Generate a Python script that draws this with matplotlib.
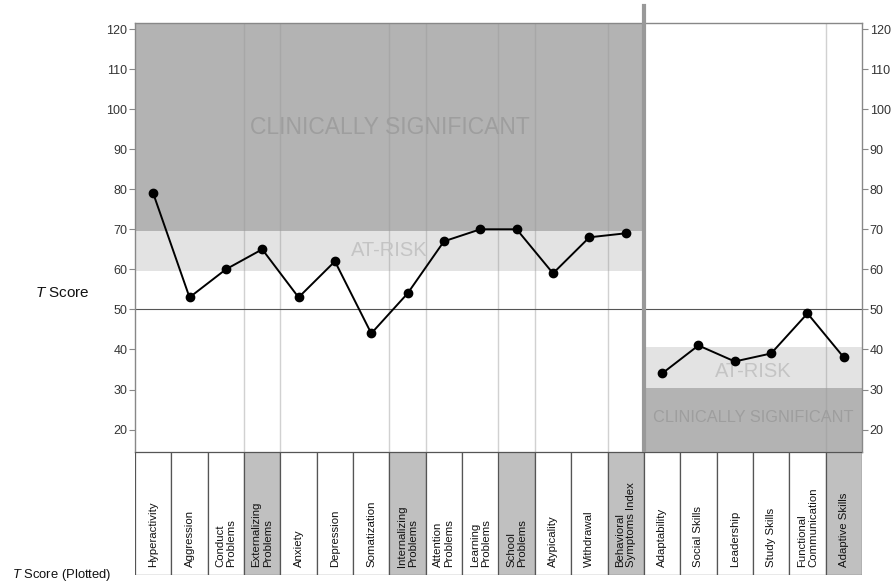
import matplotlib
matplotlib.use('Agg')
import matplotlib.pyplot as plt
from matplotlib.patches import Rectangle

plt.rcParams['font.family'] = ['Liberation Sans', 'DejaVu Sans']
plt.rcParams['mathtext.fontset'] = 'custom'
plt.rcParams['mathtext.it'] = 'Liberation Sans:italic'
plt.rcParams['mathtext.rm'] = 'Liberation Sans'

# clinical + adaptive scales (T scores)
clinical_scales = ['Hyperactivity', 'Aggression', 'Conduct\nProblems', 'Externalizing\nProblems',
                   'Anxiety', 'Depression', 'Somatization', 'Internalizing\nProblems',
                   'Attention\nProblems', 'Learning\nProblems', 'School\nProblems',
                   'Atypicality', 'Withdrawal', 'Behavioral\nSymptoms Index']
clinical_scores = [79, 53, 60, 65, 53, 62, 44, 54, 67, 70, 70, 59, 68, 69]

adaptive_scales = ['Adaptability', 'Social Skills', 'Leadership', 'Study Skills',
                   'Functional\nCommunication', 'Adaptive Skills']
adaptive_scores = [34, 41, 37, 39, 49, 38]

composites = ['Externalizing\nProblems', 'Internalizing\nProblems', 'School\nProblems',
              'Behavioral\nSymptoms Index', 'Adaptive Skills']

yticks = [20, 30, 40, 50, 60, 70, 80, 90, 100, 110, 120]

dark = '#b3b3b3'
light = '#e3e3e3'
ylo, yhi = 14.4, 121.5

all_scales = clinical_scales + adaptive_scales
n_left = len(clinical_scales)
n_all = len(all_scales)

fig = plt.figure(figsize=(8.95, 5.83), dpi=100)
ax = fig.add_axes([135/895, 1-452/583, 727/895, 429/583])
tab = fig.add_axes([135/895, 1-575/583, 727/895, 123/583])

# zones
ax.fill_between([0, n_left], 69.5, yhi, color=dark, lw=0)
ax.fill_between([0, n_left], 59.5, 69.5, color=light, lw=0)
ax.fill_between([n_left, n_all], 30.5, 40.5, color=light, lw=0)
ax.fill_between([n_left, n_all], ylo, 30.5, color=dark, lw=0)

ax.text(7.0, 95.3, 'CLINICALLY SIGNIFICANT', fontsize=16.5, color='#9e9e9e',
        ha='center', va='center')
ax.text(7.0, 64.7, 'AT-RISK', fontsize=14.5, color='#c4c4c4', ha='center', va='center')
ax.text(n_left + 3.0, 34.6, 'AT-RISK', fontsize=14.5, color='#c4c4c4', ha='center', va='center')
ax.text(n_left + 3.0, 23, 'CLINICALLY SIGNIFICANT', fontsize=11.8, color='#9e9e9e',
        ha='center', va='center')

# thin lines around composite columns
for i, name in enumerate(all_scales):
    if name in composites:
        for xb in (i, i + 1):
            if xb not in (n_left, n_all):
                ax.axvline(xb, color='#999999', alpha=0.45, lw=1)

ax.axhline(50, color='#555555', lw=0.8)

# separator between clinical and adaptive
ax.plot([n_left, n_left], [ylo, 125.7], color='#999999', lw=3, clip_on=False, zorder=5)

# profile lines
xl = [i + 0.5 for i in range(n_left)]
xr = [n_left + i + 0.5 for i in range(len(adaptive_scales))]
ax.plot(xl, clinical_scores, color='black', lw=1.4, marker='o', ms=6, zorder=6)
ax.plot(xr, adaptive_scores, color='black', lw=1.4, marker='o', ms=6, zorder=6)

ax.set_xlim(0, n_all)
ax.set_ylim(ylo, yhi)
ax.set_xticks([])
ax.set_yticks(yticks)
ax.tick_params(axis='y', left=True, right=True, labelleft=True, labelright=True,
               length=4, width=0.8, color='#888888', labelsize=9, labelcolor='#333333', pad=1.5)
for s in ax.spines.values():
    s.set_color('#888888')
    s.set_linewidth(1)

# label table
for i, name in enumerate(all_scales):
    fc = '#c0c0c0' if name in composites else 'white'
    tab.add_patch(Rectangle((i, 0), 1, 1, facecolor=fc, edgecolor='#555555', lw=0.9))
    tab.text(i + 0.5, 0.065, name, rotation=90, ha='center', va='bottom',
             multialignment='left', fontsize=8.2, color='#111111', linespacing=1.15)
tab.set_xlim(0, n_all)
tab.set_ylim(0, 1)
tab.axis('off')

fig.text(62/895, 1-293/583, r'$\it{T}$ Score', fontsize=11, ha='center', va='center', color='#111111')
fig.text(12/895, 1-575/583, r'$\it{T}$ Score (Plotted)', fontsize=9.4, ha='left', va='center', color='#111111')

fig.savefig('out.png', dpi=100)
